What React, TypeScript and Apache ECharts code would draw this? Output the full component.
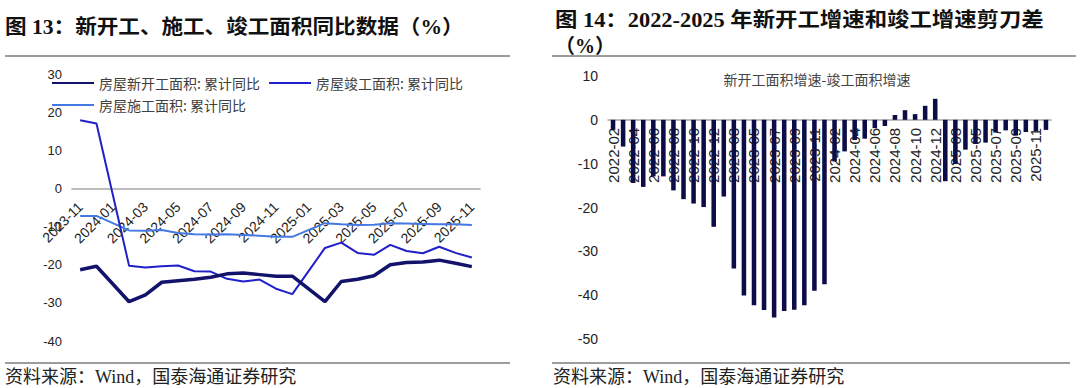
import { useEffect, useRef } from 'react';
import * as echarts from 'echarts';

// ---- Left chart: cumulative YoY (%) ----
const lineCategories = [
  '2023-11', '2023-12', '2024-01', '2024-02', '2024-03', '2024-04', '2024-05', '2024-06',
  '2024-07', '2024-08', '2024-09', '2024-10', '2024-11', '2024-12', '2025-01', '2025-02',
  '2025-03', '2025-04', '2025-05', '2025-06', '2025-07', '2025-08', '2025-09', '2025-10', '2025-11',
];
const newStartYoY = [
  -21.3, -20.4, null, -29.7, -27.9, -24.6, -24.2, -23.8, -23.3, -22.4, -22.2, -22.6, -23.0, -23.0,
  null, -29.7, -24.4, -23.8, -22.9, -20.0, -19.4, -19.3, -18.8, -19.6, -20.5,
];
const completedYoY = [
  17.9, 17.0, null, -20.3, -20.7, -20.4, -20.2, -21.7, -21.8, -23.7, -24.4, -23.9, -26.3, -27.7,
  null, -15.6, -14.2, -16.9, -17.4, -14.8, -16.4, -17.0, -15.3, -16.9, -18.1,
];
const underConstructionYoY = [
  -7.2, -7.2, null, -11.0, -11.1, -10.9, -11.7, -12.0, -12.1, -12.0, -12.2, -12.4, -12.7, -12.7,
  null, -9.1, -9.4, -9.6, -9.5, -9.1, -9.2, -9.3, -9.4, -9.4, -9.6,
];
const lineSeriesNames = ['房屋新开工面积: 累计同比', '房屋竣工面积: 累计同比', '房屋施工面积: 累计同比'];

// ---- Right chart: new start growth minus completion growth (%) ----
const barCategories = [
  '2022-02', '2022-03', '2022-04', '2022-05', '2022-06', '2022-07', '2022-08', '2022-09', '2022-10', '2022-11', '2022-12',
  '2023-02', '2023-03', '2023-04', '2023-05', '2023-06', '2023-07', '2023-08', '2023-09', '2023-10', '2023-11', '2023-12',
  '2024-02', '2024-03', '2024-04', '2024-05', '2024-06', '2024-07', '2024-08', '2024-09', '2024-10', '2024-11', '2024-12',
  '2025-02', '2025-03', '2025-04', '2025-05', '2025-06', '2025-07', '2025-08', '2025-09', '2025-10', '2025-11', '2025-12',
];
const scissorGap = [
  -2.3, -6.1, -14.4, -15.3, -12.9, -12.9, -16.1, -18.1, -19.1, -19.9, -24.4,
  -17.5, -33.9, -40.1, -42.3, -43.4, -45.1, -43.6, -43.3, -42.3, -39.0, -37.5,
  -9.5, -7.2, -4.6, -4.3, -1.9, -1.4, 1.1, 2.2, 1.3, 3.2, 4.8,
  -14.0, -10.1, -6.8, -5.5, -5.2, -2.9, -2.4, -3.6, -2.8, -2.6, -2.3,
];
const barSeriesName = '新开工面积增速-竣工面积增速';

const leftTitle = '图 13：新开工、施工、竣工面积同比数据（%）';
const rightTitleLine1 = '图 14：2022-2025 年新开工增速和竣工增速剪刀差';
const rightTitleLine2 = '（%）';
const sourceNote = '资料来源：Wind，国泰海通证券研究';

const SANS = "'Liberation Sans', Arial, sans-serif";
const CJK = "'Noto Sans CJK SC', sans-serif";
const SERIF = "'Liberation Serif', 'Noto Sans CJK SC', serif";

// grid geometry
const LEFT_GRID = { left: 72, top: 74, width: 408, height: 267 };
const RIGHT_GRID = { left: 608, top: 76, width: 443, height: 263 };
const LEFT_MIN = -40, LEFT_MAX = 30;
const RIGHT_MIN = -50, RIGHT_MAX = 10;
const TICK_STEP = 10;
// shift category axes from the grid bottom up to the zero line
const leftZeroOffset = -(LEFT_GRID.height * (0 - LEFT_MIN)) / (LEFT_MAX - LEFT_MIN);
const rightZeroOffset = -(RIGHT_GRID.height * (0 - RIGHT_MIN)) / (RIGHT_MAX - RIGHT_MIN);

const ZERO_LINE_COLOR = '#a8a8a8';

function buildOption(): echarts.EChartsCoreOption {
  const sepLine = (x1: number, x2: number, y: number) => ({
    type: 'line',
    shape: { x1, y1: y, x2, y2: y },
    style: { stroke: '#3a3a3a', lineWidth: 1 },
    silent: true,
  });
  const text = (x: number, y: number, t: string, extra: any) => ({
    type: 'text',
    x,
    y,
    style: { text: t, fill: '#111', verticalAlign: 'middle', align: 'left', ...extra },
    silent: true,
  });

  return {
    animation: false,
    backgroundColor: '#ffffff',
    legend: {
      left: 46,
      top: 71,
      width: 420,
      itemWidth: 42,
      itemHeight: 14,
      itemGap: 8,
      data: lineSeriesNames,
      itemStyle: { opacity: 0 },
      textStyle: { fontSize: 14, color: '#404040', fontFamily: CJK },
    },
    grid: [LEFT_GRID, RIGHT_GRID],
    xAxis: [
      {
        type: 'category',
        gridIndex: 0,
        data: lineCategories,
        boundaryGap: true,
        offset: leftZeroOffset,
        axisLine: { show: true, onZero: false, lineStyle: { color: ZERO_LINE_COLOR, width: 1.5 } },
        axisTick: { show: false },
        axisLabel: { interval: 1, rotate: 45, margin: 16, fontSize: 14, color: '#222', fontFamily: SANS },
        splitLine: { show: false },
        z: 1,
      },
      {
        type: 'category',
        gridIndex: 1,
        data: barCategories,
        boundaryGap: true,
        offset: rightZeroOffset,
        axisLine: { show: true, onZero: false, lineStyle: { color: ZERO_LINE_COLOR, width: 1.5 } },
        axisTick: { show: false },
        axisLabel: { interval: 1, rotate: 90, margin: 8, fontSize: 15, color: '#222', fontFamily: SANS },
        splitLine: { show: false },
        z: 1,
      },
    ],
    yAxis: [
      {
        type: 'value',
        gridIndex: 0,
        min: LEFT_MIN,
        max: LEFT_MAX,
        interval: TICK_STEP,
        axisLine: { show: false },
        axisTick: { show: false },
        splitLine: { show: false },
        axisLabel: { fontSize: 13, color: '#222', margin: 10, fontFamily: SANS },
      },
      {
        type: 'value',
        gridIndex: 1,
        min: RIGHT_MIN,
        max: RIGHT_MAX,
        interval: TICK_STEP,
        axisLine: { show: false },
        axisTick: { show: false },
        splitLine: { show: false },
        axisLabel: { fontSize: 14, color: '#222', margin: 10, fontFamily: SANS },
      },
    ],
    series: [
      {
        name: lineSeriesNames[0],
        type: 'line',
        xAxisIndex: 0,
        yAxisIndex: 0,
        data: newStartYoY,
        symbol: 'none',
        connectNulls: true,
        z: 4,
        lineStyle: { width: 3.5, color: '#13136b' },
        itemStyle: { color: '#13136b' },
      },
      {
        name: lineSeriesNames[1],
        type: 'line',
        xAxisIndex: 0,
        yAxisIndex: 0,
        data: completedYoY,
        symbol: 'none',
        connectNulls: true,
        z: 3,
        lineStyle: { width: 2, color: '#2020c8' },
        itemStyle: { color: '#2020c8' },
      },
      {
        name: lineSeriesNames[2],
        type: 'line',
        xAxisIndex: 0,
        yAxisIndex: 0,
        data: underConstructionYoY,
        symbol: 'none',
        connectNulls: true,
        z: 2,
        lineStyle: { width: 2, color: '#4479e2' },
        itemStyle: { color: '#4479e2' },
      },
      {
        name: barSeriesName,
        type: 'bar',
        xAxisIndex: 1,
        yAxisIndex: 1,
        data: scissorGap,
        barWidth: '45%',
        itemStyle: { color: '#0c0c46' },
      },
    ],
    graphic: [
      { ...text(5, 27, leftTitle, { fontSize: 20, fontWeight: 'bold', fontFamily: SERIF }), scaleX: 1.08 },
      { ...text(555, 20, rightTitleLine1, { fontSize: 20, fontWeight: 'bold', fontFamily: SERIF }), scaleX: 1.12 },
      text(555, 46, rightTitleLine2, { fontSize: 20, fontWeight: 'bold', fontFamily: SERIF }),
      sepLine(5, 510, 56),
      sepLine(552, 1076, 56),
      {
        type: 'text',
        x: 817,
        y: 79,
        style: { text: barSeriesName, fill: '#444', fontSize: 14, fontFamily: CJK, align: 'center', verticalAlign: 'middle' },
        silent: true,
      },
      sepLine(5, 510, 363),
      sepLine(552, 1070, 363),
      text(5, 377, sourceNote, { fontSize: 18, fontFamily: SERIF, fill: '#222' }),
      text(553, 377, sourceNote, { fontSize: 18, fontFamily: SERIF, fill: '#222' }),
    ],
  };
}

export default function App() {
  const ref = useRef<HTMLDivElement>(null);
  useEffect(() => {
    if (!ref.current) return;
    const chart = echarts.init(ref.current, null, { renderer: 'svg' });
    chart.setOption(buildOption());
    return () => chart.dispose();
  }, []);
  return (
    <div
      ref={ref}
      style={{ position: 'fixed', left: 0, top: 0, width: 1080, height: 388, background: '#fff' }}
    />
  );
}
